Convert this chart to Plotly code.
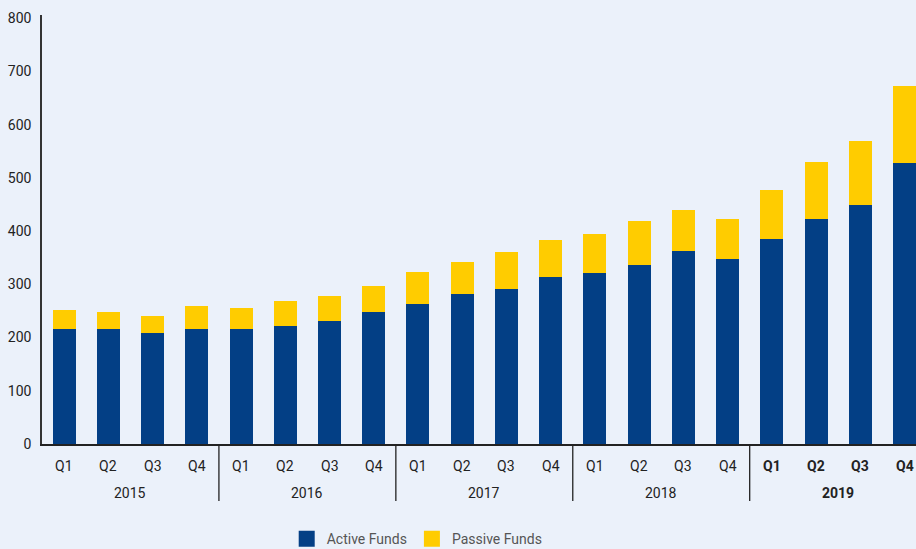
import plotly.graph_objects as go

# Quarterly fund counts (stacked: active + passive)
years = ["2015", "2016", "2017", "2018", "2019"]
quarters = ["Q1", "Q2", "Q3", "Q4"]
active_funds = [216, 216, 208, 216, 216, 222, 231, 248, 263, 282,
                291, 314, 321, 336, 362, 347, 385, 423, 449, 528]
passive_funds = [36, 32, 32, 43, 39, 46, 47, 49, 60, 60,
                 70, 69, 73, 83, 77, 75, 92, 107, 120, 144]
y_ticks = [0, 100, 200, 300, 400, 500, 600, 700, 800]

BLUE = "#033F85"
YELLOW = "#FFCC00"
BG = "#EBF1FA"
TEXT = "#222222"
FONT = "Roboto"

categories = [f"{y} {q}" for y in years for q in quarters]

fig = go.Figure()
fig.add_trace(go.Bar(x=categories, y=active_funds, name="Active Funds",
                     marker=dict(color=BLUE, line=dict(width=0)),
                     showlegend=False))
fig.add_trace(go.Bar(x=categories, y=passive_funds, name="Passive Funds",
                     marker=dict(color=YELLOW, line=dict(width=0)),
                     showlegend=False))

# Legend entries with larger square swatches
for name, color in [("Active Funds", BLUE), ("Passive Funds", YELLOW)]:
    fig.add_trace(go.Scatter(x=[None], y=[None], mode="markers", name=name,
                             marker=dict(symbol="square", size=16, color=color),
                             showlegend=True))

annotations = []
shapes = []
for yi, year in enumerate(years):
    bold = year == "2019"
    for qi, q in enumerate(quarters):
        cat = categories[yi * 4 + qi]
        annotations.append(dict(
            x=cat, y=0, xref="x", yref="paper", yanchor="middle",
            yshift=-22, showarrow=False,
            text=f"<b>{q}</b>" if bold else q,
            font=dict(family=FONT, size=14, color=TEXT)))
    mid = yi * 4 + 1.5
    annotations.append(dict(
        x=mid, y=0, xref="x", yref="paper", yanchor="middle",
        yshift=-49, showarrow=False,
        text=f"<b>{year}</b>" if bold else year,
        font=dict(family=FONT, size=14, color=TEXT)))
    if yi > 0:
        shapes.append(dict(type="line", xref="x", yref="paper",
                           x0=yi * 4 - 0.5, x1=yi * 4 - 0.5,
                           y0=0, y1=-57 / 429.5,
                           line=dict(color=TEXT, width=1.3)))

fig.update_layout(
    barmode="stack",
    bargap=0.48,
    width=916, height=549,
    margin=dict(l=42, r=0, t=15, b=104.5),
    paper_bgcolor=BG, plot_bgcolor=BG,
    font=dict(family=FONT, size=14, color=TEXT),
    xaxis=dict(type="category", range=[-0.5, 19.26],
               showticklabels=False, ticks="", showgrid=False,
               showline=True, linecolor=TEXT, linewidth=1.5,
               zeroline=False, fixedrange=True),
    yaxis=dict(range=[0, 806], tickvals=y_ticks, showgrid=False,
               showline=True, linecolor="#333333", linewidth=1.5,
               zeroline=False, ticks="", ticklabelstandoff=6,
               tickfont=dict(family=FONT, size=14, color=TEXT)),
    legend=dict(orientation="h", xref="container", yref="container",
                x=0.313, y=0.018, xanchor="left", yanchor="middle",
                traceorder="normal",
                font=dict(family=FONT, size=14, color="#555555"),
                itemsizing="trace", bgcolor="rgba(0,0,0,0)"),
    annotations=annotations,
    shapes=shapes,
)

fig.write_html("out.html")
